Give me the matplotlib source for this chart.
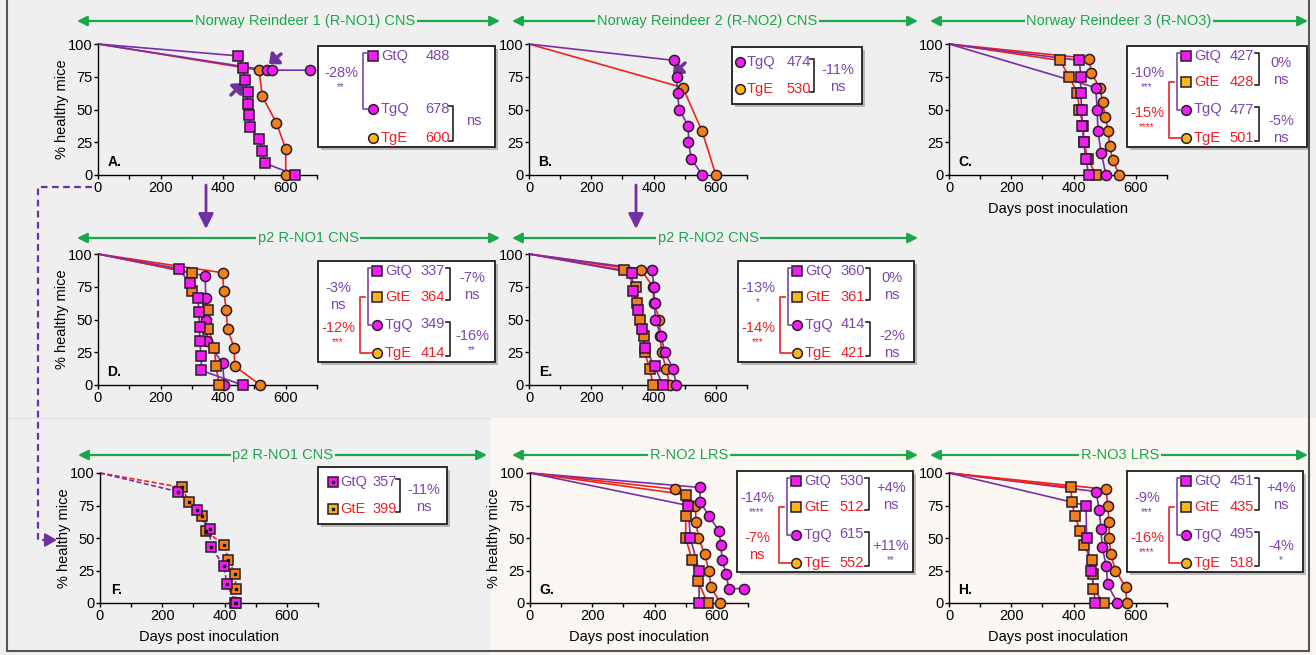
import matplotlib
matplotlib.use('Agg')
import matplotlib.pyplot as plt
from matplotlib.patches import Rectangle

plt.rcParams['font.family'] = ['Liberation Sans', 'DejaVu Sans']

# survival curves: days post inoculation / % healthy mice (first point is the 0-day start)
a_gtq_days = [0, 449, 465, 470, 478, 478, 483, 486, 515, 525, 533, 631]
a_gtq_pct = [100, 90.9, 81.8, 72.7, 63.6, 54.5, 45.5, 36.4, 27.3, 18.2, 9.1, 0]
a_tgq_days = [0, 539, 555, 678]
a_tgq_pct = [100, 80, 80, 80]
a_tge_days = [0, 515, 525, 570, 600, 600]
a_tge_pct = [100, 80, 60, 40, 20, 0]

b_tgq_days = [0, 465, 474, 477, 482, 512, 512, 521, 556]
b_tgq_pct = [100, 87.5, 75, 62.5, 50, 37.5, 25, 12.5, 0]
b_tge_days = [0, 494, 556, 600]
b_tge_pct = [100, 66.7, 33.3, 0]

c_gtq_days = [0, 419, 423, 423, 426, 428, 433, 439, 449]
c_gtq_pct = [100, 87.5, 75, 62.5, 50, 37.5, 25, 12.5, 0]
c_gte_days = [0, 356, 386, 412, 419, 431, 433, 446, 472]
c_gte_pct = [100, 87.5, 75, 62.5, 50, 37.5, 25, 12.5, 0]
c_tgq_days = [0, 471, 476, 478, 489, 504]
c_tgq_pct = [100, 66.7, 50, 33.3, 16.7, 0]
c_tge_days = [0, 451, 456, 485, 493, 502, 511, 516, 526, 547]
c_tge_pct = [100, 88.9, 77.8, 66.7, 55.6, 44.4, 33.3, 22.2, 11.1, 0]

d_gtq_days = [0, 258, 293, 320, 322, 325, 325, 330, 330, 462]
d_gtq_pct = [100, 88.9, 77.8, 66.7, 55.6, 44.4, 33.3, 22.2, 11.1, 0]
d_gte_days = [0, 302, 302, 351, 353, 372, 377, 388]
d_gte_pct = [100, 85.7, 71.4, 57.1, 42.9, 28.6, 14.3, 0]
d_tgq_days = [0, 343, 344, 346, 349, 398, 404]
d_tgq_pct = [100, 83.3, 66.7, 50, 33.3, 16.7, 0]
d_tge_days = [0, 398, 402, 410, 414, 435, 437, 519]
d_tge_pct = [100, 85.7, 71.4, 57.1, 42.9, 28.6, 14.3, 0]

e_gtq_days = [0, 331, 334, 351, 363, 373, 403, 430]
e_gtq_pct = [100, 85.7, 71.4, 57.1, 42.9, 28.6, 14.3, 0]
e_gte_days = [0, 306, 344, 347, 355, 369, 371, 388, 398]
e_gte_pct = [100, 87.5, 75, 62.5, 50, 37.5, 25, 12.5, 0]
e_tgq_days = [0, 395, 401, 403, 406, 423, 437, 462, 473]
e_tgq_pct = [100, 87.5, 75, 62.5, 50, 37.5, 25, 12.5, 0]
e_tge_days = [0, 361, 398, 401, 419, 421, 426, 440, 452]
e_tge_pct = [100, 87.5, 75, 62.5, 50, 37.5, 25, 12.5, 0]

f_gtq_days = [0, 249, 313, 352, 356, 399, 407, 437]
f_gtq_pct = [100, 85.7, 71.4, 57.1, 42.9, 28.6, 14.3, 0]
f_gte_days = [0, 262, 286, 328, 339, 399, 412, 434, 436, 434]
f_gte_pct = [100, 88.9, 77.8, 66.7, 55.6, 44.4, 33.3, 22.2, 11.1, 0]

g_gtq_days = [0, 507, 515, 543, 543]
g_gtq_pct = [100, 75, 50, 25, 0]
g_gte_days = [0, 501, 500, 500, 520, 540, 570]
g_gte_pct = [100, 83.3, 66.7, 50, 33.3, 16.7, 0]
g_tgq_days = [0, 545, 547, 575, 607, 613, 617, 630, 638, 686]
g_tgq_pct = [100, 88.9, 77.8, 66.7, 55.6, 44.4, 33.3, 22.2, 11.1, 11.1]
g_tge_days = [0, 466, 531, 533, 541, 561, 574, 581, 611]
g_tge_pct = [100, 87.5, 75, 62.5, 50, 37.5, 25, 12.5, 0]

h_gtq_days = [0, 440, 442, 457, 470]
h_gtq_pct = [100, 75, 50, 25, 0]
h_gte_days = [0, 391, 395, 404, 421, 432, 458, 462, 462, 498]
h_gte_pct = [100, 88.9, 77.8, 66.7, 55.6, 44.4, 33.3, 22.2, 11.1, 0]
h_tgq_days = [0, 472, 483, 488, 492, 505, 509, 541]
h_tgq_pct = [100, 85.7, 71.4, 57.1, 42.9, 28.6, 14.3, 0]
h_tge_days = [0, 505, 509, 514, 514, 520, 534, 567, 571]
h_tge_pct = [100, 87.5, 75, 62.5, 50, 37.5, 25, 12.5, 0]

# key boxes: group names, mean incubation (days), comparisons
four_names = ['GtQ', 'GtE', 'TgQ', 'TgE']
a_names = ['GtQ', 'TgQ', 'TgE']
a_means = [488, 678, 600]
a_left = ('-28%', '**')
a_right = 'ns'
b_names = ['TgQ', 'TgE']
b_means = [474, 530]
b_stat = ('-11%', 'ns')
c_means = [427, 428, 477, 501]
c_left = [('-10%', '***'), ('-15%', '****')]
c_right = [('0%', 'ns'), ('-5%', 'ns')]
d_means = [337, 364, 349, 414]
d_left = [('-3%', 'ns'), ('-12%', '***')]
d_right = [('-7%', 'ns'), ('-16%', '**')]
e_means = [360, 361, 414, 421]
e_left = [('-13%', '*'), ('-14%', '***')]
e_right = [('0%', 'ns'), ('-2%', 'ns')]
f_names = ['GtQ', 'GtE']
f_means = [357, 399]
f_stat = ('-11%', 'ns')
g_means = [530, 512, 615, 552]
g_left = [('-14%', '****'), ('-7%', 'ns')]
g_right = [('+4%', 'ns'), ('+11%', '**')]
h_means = [451, 435, 495, 518]
h_left = [('-9%', '***'), ('-16%', '****')]
h_right = [('+4%', 'ns'), ('-4%', '*')]

titles = ['Norway Reindeer 1 (R-NO1) CNS', 'Norway Reindeer 2 (R-NO2) CNS',
          'Norway Reindeer 3 (R-NO3)', 'p2 R-NO1 CNS', 'p2 R-NO2 CNS',
          'p2 R-NO1 CNS', 'R-NO2 LRS', 'R-NO3 LRS']

MAG = '#f01ef0'
ORG = '#f08019'
GOLD = '#f6b71a'
PUR = '#7a2ea6'
RED = '#f2211e'
PUR_T = '#7d45ad'
RED_T = '#ea2228'
GREEN = '#1aa64b'
EDGE = '#2a1a2a'
GRAY_BG = '#efefef'
BEIGE_BG = '#fbf7f2'

W, H = 1316, 655
fig = plt.figure(figsize=(W / 100, H / 100), dpi=100)
fig.patch.set_facecolor(GRAY_BG)

ov = fig.add_axes([0, 0, 1, 1])
ov.set_xlim(0, W)
ov.set_ylim(H, 0)
ov.axis('off')
ov.add_patch(Rectangle((490, 418), W - 490, H - 418, fc=BEIGE_BG, ec='none', zorder=0))
ov.plot([7, 490], [418, 418], color='#e2e2e2', lw=1, zorder=0)
ov.plot([7, 7], [0, 651], color='#555555', lw=1.5)
ov.plot([1309, 1309], [0, 651], color='#555555', lw=1.5)
ov.plot([7, 1309], [651, 651], color='#555555', lw=1.5)


def panel(x0, x1, y0, y1, letter, ylabel=False, xlabel=False):
    ax = fig.add_axes([x0 / W, 1 - y1 / H, (x1 - x0) / W, (y1 - y0) / H])
    ax.patch.set_alpha(0)
    ax.set_xlim(0, 700)
    ax.set_ylim(0, 100)
    ax.spines[['top', 'right']].set_visible(False)
    ax.spines[['left', 'bottom']].set_linewidth(1.0)
    ax.set_xticks(range(0, 701, 100))
    ax.set_xticklabels(['0', '', '200', '', '400', '', '600', ''])
    ax.set_yticks([0, 25, 50, 75, 100])
    ax.tick_params(length=3, width=1, labelsize=10.5, pad=1)
    ax.text(0.075, 0.1, letter, transform=ax.transAxes, fontsize=10,
            fontweight='bold', ha='center', va='center')
    if ylabel:
        ax.set_ylabel('% healthy mice', fontsize=10.5, labelpad=-1)
    if xlabel:
        ax.set_xlabel('Days post inoculation', fontsize=10.5, labelpad=5)
    return ax


def series(ax, days, pct, kind, dashed=False):
    fill = MAG if kind[2] == 'Q' else ORG
    line = PUR if kind[2] == 'Q' else RED
    mk = 's' if kind[0] == 'G' else 'o'
    ax.plot(days, pct, color=line, lw=1.2, ls=(0, (3, 1.5)) if dashed else '-',
            clip_on=False, zorder=2)
    ax.plot(days[1:], pct[1:], ls='none', marker=mk, ms=7.3, mfc=fill, mec=EDGE,
            mew=1.1, clip_on=False, zorder=3)
    if dashed:
        ax.plot(days[1:], pct[1:], ls='none', marker='s', ms=2, color='#111111',
                clip_on=False, zorder=4)


def header(x0, x1, y, text, xc, bg=GRAY_BG):
    ov.annotate('', xy=(x0, y), xytext=(x1, y),
                arrowprops=dict(arrowstyle='<|-|>,head_length=0.6,head_width=0.3',
                                color=GREEN, lw=1.6, shrinkA=0, shrinkB=0))
    ov.text(xc, y, text, color=GREEN, fontsize=10.5, ha='center', va='center',
            bbox=dict(fc=bg, ec='none', pad=1.2))


def box(L, T, w, h):
    ov.add_patch(Rectangle((L + 3, T + 3), w, h, fc='#8a8a8a', ec='none', alpha=0.55, zorder=1))
    ov.add_patch(Rectangle((L, T), w, h, fc='white', ec='#1e1e1e', lw=1.3, zorder=2))


def key_row(xm, xn, xv, y, name, val, dotted=False):
    fill = MAG if name[2] == 'Q' else GOLD
    col = PUR_T if name[2] == 'Q' else RED_T
    mk = 's' if name[0] == 'G' else 'o'
    ov.plot([xm], [y], marker=mk, ms=7, mfc=fill, mec=EDGE, mew=1.1, zorder=3)
    if dotted:
        ov.plot([xm], [y], marker='s', ms=2, color='#111111', zorder=4)
    ov.text(xn, y, name, color=col, fontsize=10.5, ha='left', va='center', zorder=3)
    ov.text(xv, y, str(val), color=col, fontsize=10.5, ha='right', va='center', zorder=3)


def lbracket(x, y0, y1, color, t0=5, t1=5):
    ov.plot([x + t0, x, x, x + t1], [y0, y0, y1, y1], color=color, lw=1.2, zorder=3)


def rbracket(x, y0, y1):
    ov.plot([x - 4, x, x, x - 4], [y0 - 3, y0 - 3, y1 + 3, y1 + 3], color='#222222', lw=1.2, zorder=3)


def stat(x, y, pair, color):
    pct, sig = pair
    ov.text(x, y, pct, color=color, fontsize=10.5, ha='center', va='center', zorder=3)
    if sig == 'ns':
        ov.text(x, y + 17, sig, color=color, fontsize=10.5, ha='center', va='center', zorder=3)
    else:
        ov.text(x, y + 14, sig, color=color, fontsize=7, ha='center', va='center', zorder=3)


def key4(L, T, W_, means, left, right):
    box(L, T, W_, 101)
    rows = [T + 10, T + 36, T + 63.5, T + 92]
    for name, val, y in zip(four_names, means, rows):
        key_row(L + 59, L + 67, L + 127, y, name, val)
    lbracket(L + 50, rows[0] - 3, rows[2], PUR_T)
    lbracket(L + 42, rows[1], rows[3], RED_T, 5, 12)
    stat(L + 20, T + 27, left[0], PUR_T)
    stat(L + 20, T + 67, left[1], RED_T)
    rbracket(L + 132, rows[0], rows[1])
    rbracket(L + 132, rows[2], rows[3])
    stat(L + 154, T + 17, right[0], PUR_T)
    stat(L + 154, T + 75, right[1], PUR_T)


def key2(L, T, w, names, means, pair, xm, dotted=False):
    box(L, T, w, 57)
    rows = [T + 15, T + 42]
    for name, val, y in zip(names, means, rows):
        key_row(L + xm, L + xm + 7, L + 79, y, name, val, dotted)
    rbracket(L + 82, rows[0], rows[1])
    stat(L + 106, T + 23, pair, PUR_T)


# columns and rows of the panel grid (figure pixels)
C1, C2, C3 = (98, 317), (529, 747), (949, 1167)
R1, R2, R3 = (44, 175), (254, 385), (473, 603)

axA = panel(*C1, *R1, 'A.', ylabel=True)
series(axA, a_tge_days, a_tge_pct, 'TgE')
series(axA, a_tgq_days, a_tgq_pct, 'TgQ')
series(axA, a_gtq_days, a_gtq_pct, 'GtQ')

axB = panel(*C2, *R1, 'B.')
series(axB, b_tge_days, b_tge_pct, 'TgE')
series(axB, b_tgq_days, b_tgq_pct, 'TgQ')

axC = panel(*C3, *R1, 'C.', xlabel=True)
series(axC, c_tge_days, c_tge_pct, 'TgE')
series(axC, c_tgq_days, c_tgq_pct, 'TgQ')
series(axC, c_gte_days, c_gte_pct, 'GtE')
series(axC, c_gtq_days, c_gtq_pct, 'GtQ')

axD = panel(*C1, *R2, 'D.', ylabel=True)
series(axD, d_tge_days, d_tge_pct, 'TgE')
series(axD, d_tgq_days, d_tgq_pct, 'TgQ')
series(axD, d_gte_days, d_gte_pct, 'GtE')
series(axD, d_gtq_days, d_gtq_pct, 'GtQ')

axE = panel(*C2, *R2, 'E.')
series(axE, e_tge_days, e_tge_pct, 'TgE')
series(axE, e_tgq_days, e_tgq_pct, 'TgQ')
series(axE, e_gte_days, e_gte_pct, 'GtE')
series(axE, e_gtq_days, e_gtq_pct, 'GtQ')

axF = panel(100, 318, *R3, 'F.', ylabel=True, xlabel=True)
series(axF, f_gte_days, f_gte_pct, 'GtE', dashed=True)
series(axF, f_gtq_days, f_gtq_pct, 'GtQ', dashed=True)

axG = panel(530, 748, *R3, 'G.', ylabel=True, xlabel=True)
series(axG, g_tge_days, g_tge_pct, 'TgE')
series(axG, g_tgq_days, g_tgq_pct, 'TgQ')
series(axG, g_gte_days, g_gte_pct, 'GtE')
series(axG, g_gtq_days, g_gtq_pct, 'GtQ')

axH = panel(*C3, *R3, 'H.', xlabel=True)
series(axH, h_tge_days, h_tge_pct, 'TgE')
series(axH, h_tgq_days, h_tgq_pct, 'TgQ')
series(axH, h_gte_days, h_gte_pct, 'GtE')
series(axH, h_gtq_days, h_gtq_pct, 'GtQ')

# green section headers
header(77, 500, 21, titles[0], 305)
header(512, 918, 21, titles[1], 707)
header(930, 1308, 21, titles[2], 1119)
header(77, 500, 238, titles[3], 308)
header(512, 918, 238, titles[4], 708)
header(78, 487, 455, titles[5], 283)
header(512, 918, 455, titles[6], 689, BEIGE_BG)
header(930, 1308, 455, titles[7], 1120, BEIGE_BG)

# key A (three groups)
L, T = 318, 46
box(L, T, 177, 101)
rowsA = [T + 10, T + 63, T + 92]
for name, val, y in zip(a_names, a_means, rowsA):
    key_row(L + 55, L + 63, L + 132, y, name, val)
lbracket(L + 45, rowsA[0] - 3, rowsA[1], PUR_T)
stat(L + 23, T + 27, a_left, PUR_T)
rbracket(L + 135, rowsA[1], rowsA[2])
ov.text(L + 156, T + 75, a_right, color=PUR_T, fontsize=10.5, ha='center', va='center', zorder=3)

key2(732, 47, 130, b_names, b_means, b_stat, 8)
key4(1127, 46, 180, c_means, c_left, c_right)
key4(318, 261, 177, d_means, d_left, d_right)
key4(738, 261, 176, e_means, e_left, e_right)
key2(318, 467, 129, f_names, f_means, f_stat, 15, dotted=True)
key4(737, 471, 176, g_means, g_left, g_right)
key4(1127, 471, 176, h_means, h_left, h_right)

# purple passage arrows
arrow_kw = dict(arrowstyle='-|>,head_length=0.9,head_width=0.45', color='#7030a0', lw=2,
                shrinkA=0, shrinkB=0)
ov.annotate('', xy=(206, 229), xytext=(206, 185), arrowprops=arrow_kw)
ov.annotate('', xy=(636, 229), xytext=(636, 185), arrowprops=arrow_kw)
ov.plot([92, 38, 38, 44], [187, 187, 540, 540], color='#7030a0', lw=1.6, ls=(0, (3, 2)))
ov.annotate('', xy=(57, 540), xytext=(44, 540), arrowprops=dict(
    arrowstyle='-|>,head_length=0.7,head_width=0.4', color='#7030a0', lw=1.6,
    shrinkA=0, shrinkB=0))

# small pointers at the curves in A and B
small_kw = dict(arrowstyle='-|>,head_length=0.5,head_width=0.45', color='#7030a0', lw=2.5,
                shrinkA=0, shrinkB=0)
ov.annotate('', xy=(269, 64), xytext=(281, 54), arrowprops=small_kw)
ov.annotate('', xy=(243, 83), xytext=(231, 95), arrowprops=small_kw)
ov.annotate('', xy=(673, 74), xytext=(685, 63), arrowprops=small_kw)

fig.savefig('out.png', dpi=100, facecolor=fig.get_facecolor())
